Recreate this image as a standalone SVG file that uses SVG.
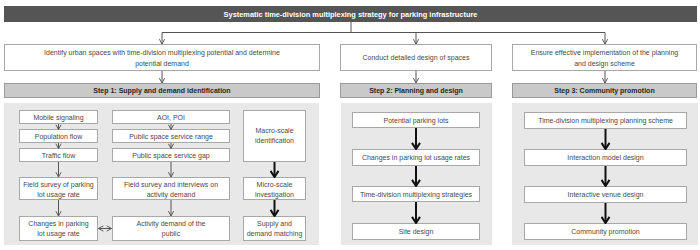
<svg xmlns="http://www.w3.org/2000/svg" width="700" height="250" viewBox="0 0 700 250">
<defs>
<style>
.bg{fill:#ffffff}
.title{fill:#555555}
.tt{font-family:"Liberation Sans",Arial,sans-serif;font-size:7.4px;font-weight:bold;fill:#ffffff;text-anchor:middle}
.box{fill:#ffffff;stroke:#a8a8a8;stroke-width:1}
.step{fill:#c9c9c9;stroke:#9a9a9a;stroke-width:1}
.panel{fill:#e8e8e8}
.t{font-family:"Liberation Sans",Arial,sans-serif;font-size:7px;fill:#4a4a4a;text-anchor:middle}
.st{font-family:"Liberation Sans",Arial,sans-serif;font-size:7px;font-weight:bold;fill:#262626;text-anchor:middle}
.c{fill:none;stroke:#555555;stroke-width:1}
.cb{fill:none;stroke:#111111;stroke-width:2}
</style>
<marker id="ah" viewBox="0 0 8 8" refX="7" refY="4" markerWidth="7" markerHeight="7" markerUnits="userSpaceOnUse" orient="auto-start-reverse">
<path d="M1.5,1 L7,4 L1.5,7" fill="none" stroke="#555555" stroke-width="1.1"/>
</marker>
<marker id="ahb" viewBox="0 0 10 10" refX="8.6" refY="5" markerWidth="10" markerHeight="10" markerUnits="userSpaceOnUse" orient="auto">
<path d="M2.5,1 L8.6,5 L2.5,9" fill="none" stroke="#111111" stroke-width="2"/>
</marker>
</defs>
<rect class="bg" x="0" y="0" width="700" height="250"/>

<g id="title">
<rect class="title" x="4" y="6" width="693" height="16"/>
<text class="tt" x="350.5" y="16.7">Systematic time-division multiplexing strategy for parking infrastructure</text>
</g>

<g id="top1">
<rect class="box" x="4.5" y="44.5" width="315" height="26"/>
<text class="t" x="162" y="54.5">Identify urban spaces with time-division multiplexing potential and determine</text>
<text class="t" x="162" y="65.5">potential demand</text>
</g>
<g id="top2">
<rect class="box" x="340.5" y="44.5" width="151" height="26"/>
<text class="t" x="416" y="59.5">Conduct detailed design of spaces</text>
</g>
<g id="top3">
<rect class="box" x="512.5" y="44.5" width="184" height="26"/>
<text class="t" x="604.5" y="54.5">Ensure effective implementation of the planning</text>
<text class="t" x="604.5" y="65.5">and design scheme</text>
</g>

<g id="step1">
<rect class="step" x="4.5" y="83.5" width="315" height="14"/>
<text class="st" x="162" y="92.8">Step 1: Supply and demand identification</text>
</g>
<g id="step2">
<rect class="step" x="340.5" y="83.5" width="151" height="14"/>
<text class="st" x="416" y="92.8">Step 2: Planning and design</text>
</g>
<g id="step3">
<rect class="step" x="512.5" y="83.5" width="184" height="14"/>
<text class="st" x="604.5" y="92.8">Step 3: Community promotion</text>
</g>

<g id="panels">
<rect class="panel" x="4" y="103" width="315" height="142"/>
<rect class="panel" x="341" y="103" width="151" height="142"/>
<rect class="panel" x="512" y="103" width="186" height="142"/>
</g>

<g id="mobile">
<rect class="box" x="19.5" y="110.5" width="78" height="13"/>
<text class="t" x="58.5" y="119.5">Mobile signaling</text>
</g>
<g id="population">
<rect class="box" x="19.5" y="129.5" width="78" height="13"/>
<text class="t" x="58.5" y="138.5">Population flow</text>
</g>
<g id="traffic">
<rect class="box" x="19.5" y="148.5" width="78" height="13"/>
<text class="t" x="58.5" y="157.5">Traffic flow</text>
</g>
<g id="fieldparking">
<rect class="box" x="19.5" y="177.5" width="78" height="22"/>
<text class="t" x="58.5" y="187">Field survey of parking</text>
<text class="t" x="58.5" y="197">lot usage rate</text>
</g>
<g id="changes">
<rect class="box" x="19.5" y="216.5" width="78" height="24"/>
<text class="t" x="58.5" y="225.5">Changes in parking</text>
<text class="t" x="58.5" y="235.5">lot usage rate</text>
</g>

<g id="aoi">
<rect class="box" x="112.5" y="110.5" width="117" height="13"/>
<text class="t" x="171" y="119.5">AOI, POI</text>
</g>
<g id="range">
<rect class="box" x="112.5" y="129.5" width="117" height="13"/>
<text class="t" x="171" y="138.5">Public space service range</text>
</g>
<g id="gap">
<rect class="box" x="112.5" y="148.5" width="117" height="13"/>
<text class="t" x="171" y="157.5">Public space service gap</text>
</g>
<g id="fieldactivity">
<rect class="box" x="112.5" y="177.5" width="117" height="22"/>
<text class="t" x="171" y="187">Field survey and interviews on</text>
<text class="t" x="171" y="197">activity demand</text>
</g>
<g id="activity">
<rect class="box" x="112.5" y="216.5" width="117" height="24"/>
<text class="t" x="171" y="225.5">Activity demand of the</text>
<text class="t" x="171" y="235.5">public</text>
</g>

<g id="macro">
<rect class="box" x="243.5" y="110.5" width="62" height="51"/>
<text class="t" x="274.5" y="133">Macro-scale</text>
<text class="t" x="274.5" y="143">identification</text>
</g>
<g id="micro">
<rect class="box" x="243.5" y="177.5" width="62" height="22"/>
<text class="t" x="274.5" y="187">Micro-scale</text>
<text class="t" x="274.5" y="197">investigation</text>
</g>
<g id="supply">
<rect class="box" x="243.5" y="216.5" width="62" height="24"/>
<text class="t" x="274.5" y="225.5">Supply and</text>
<text class="t" x="274.5" y="235.5">demand matching</text>
</g>

<g id="potential">
<rect class="box" x="352.5" y="112.5" width="127" height="15"/>
<text class="t" x="416" y="122.5">Potential parking lots</text>
</g>
<g id="changesrates">
<rect class="box" x="352.5" y="149.5" width="127" height="16"/>
<text class="t" x="416" y="160">Changes in parking lot usage rates</text>
</g>
<g id="strategies">
<rect class="box" x="352.5" y="186.5" width="127" height="15"/>
<text class="t" x="416" y="196.5">Time-division multiplexing strategies</text>
</g>
<g id="site">
<rect class="box" x="352.5" y="223.5" width="127" height="16"/>
<text class="t" x="416" y="234">Site design</text>
</g>

<g id="scheme">
<rect class="box" x="524.5" y="112.5" width="162" height="16"/>
<text class="t" x="605.5" y="123">Time-division multiplexing planning scheme</text>
</g>
<g id="interaction">
<rect class="box" x="524.5" y="149.5" width="162" height="16"/>
<text class="t" x="605.5" y="160">Interaction model design</text>
</g>
<g id="venue">
<rect class="box" x="524.5" y="186.5" width="162" height="16"/>
<text class="t" x="605.5" y="197">Interactive venue design</text>
</g>
<g id="community">
<rect class="box" x="524.5" y="223.5" width="162" height="16"/>
<text class="t" x="605.5" y="234">Community promotion</text>
</g>

<g id="connectors">
<path class="c" d="M351,22 V32.5 M162,32.5 H605"/>
<line class="c" x1="162" y1="32.5" x2="162" y2="44" marker-end="url(#ah)"/>
<line class="c" x1="416" y1="32.5" x2="416" y2="44" marker-end="url(#ah)"/>
<line class="c" x1="605" y1="32.5" x2="605" y2="44" marker-end="url(#ah)"/>
<line class="c" x1="162" y1="71" x2="162" y2="83" marker-end="url(#ah)"/>
<line class="c" x1="416" y1="71" x2="416" y2="83" marker-end="url(#ah)"/>
<line class="c" x1="605" y1="71" x2="605" y2="83" marker-end="url(#ah)"/>

<line class="c" x1="58.5" y1="124" x2="58.5" y2="129.5" marker-end="url(#ah)"/>
<line class="c" x1="58.5" y1="143" x2="58.5" y2="148.5" marker-end="url(#ah)"/>
<line class="c" x1="58.5" y1="162" x2="58.5" y2="177" marker-end="url(#ah)"/>
<line class="c" x1="58.5" y1="200" x2="58.5" y2="216" marker-end="url(#ah)"/>

<line class="c" x1="171" y1="124" x2="171" y2="129.5" marker-end="url(#ah)"/>
<line class="c" x1="171" y1="143" x2="171" y2="148.5" marker-end="url(#ah)"/>
<line class="c" x1="171" y1="162" x2="171" y2="177" marker-end="url(#ah)"/>
<line class="c" x1="171" y1="200" x2="171" y2="216" marker-end="url(#ah)"/>

<line class="c" x1="98.5" y1="228.5" x2="111.5" y2="228.5" marker-start="url(#ah)" marker-end="url(#ah)"/>

<line class="cb" x1="274.5" y1="162" x2="274.5" y2="177" marker-end="url(#ahb)"/>
<line class="cb" x1="274.5" y1="200" x2="274.5" y2="216" marker-end="url(#ahb)"/>

<line class="cb" x1="416" y1="128" x2="416" y2="149" marker-end="url(#ahb)"/>
<line class="cb" x1="416" y1="166" x2="416" y2="186" marker-end="url(#ahb)"/>
<line class="cb" x1="416" y1="202" x2="416" y2="223" marker-end="url(#ahb)"/>

<line class="cb" x1="605.5" y1="129" x2="605.5" y2="149" marker-end="url(#ahb)"/>
<line class="cb" x1="605.5" y1="166" x2="605.5" y2="186" marker-end="url(#ahb)"/>
<line class="cb" x1="605.5" y1="203" x2="605.5" y2="223" marker-end="url(#ahb)"/>
</g>
</svg>
